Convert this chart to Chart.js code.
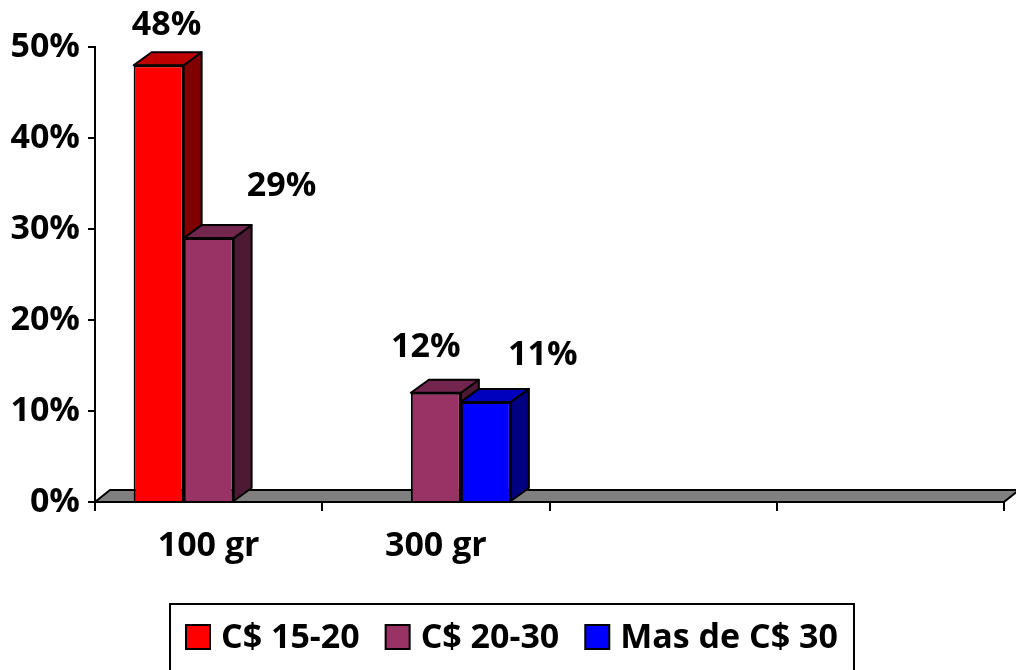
<!DOCTYPE html>
<html>
<head>
<meta charset="utf-8">
<title>Precio por presentación</title>
<script src="https://cdn.jsdelivr.net/npm/chart.js@4.4.1/dist/chart.umd.min.js"></script>
<style>
  html, body { margin: 0; padding: 0; background: #fff; }
  canvas { display: block; }
</style>
</head>
<body>
<canvas id="chart" width="1016" height="670"></canvas>
<script>
const categories = ['100 gr', '300 gr', '', ''];
const seriesNames = ['C$ 15-20', 'C$ 20-30', 'Mas de C$ 30'];
const price15to20 = [48, null, null, null];
const price20to30 = [29, 12, null, null];
const priceOver30 = [null, 11, null, null];
const yTicks = [0, 10, 20, 30, 40, 50];

// front / top / side shades for each series
const fronts = ['#FF0000', '#993366', '#0000FF'];
const tops = ['#BF0000', '#73264D', '#0000BF'];
const sides = ['#800000', '#4D1A33', '#000080'];

// where each value label sits relative to the bar top
const labelNudge = [
  [[8, -40], null],
  [[73, -52], [-10, -45]],
  [null, [57, -47]]
];

const FONT = '"Open Sans", Lato, sans-serif';
const FONT_SIZE = 34;
const DEPTH_X = 18, DEPTH_Y = 13;   // bar depth
const FLOOR_X = 15, FLOOR_Y = 12;   // floor depth

function poly(ctx, pts, fill) {
  ctx.beginPath();
  ctx.moveTo(pts[0][0], pts[0][1]);
  for (let i = 1; i < pts.length; i++) ctx.lineTo(pts[i][0], pts[i][1]);
  ctx.closePath();
  ctx.fillStyle = fill;
  ctx.fill();
  ctx.stroke();
}

const bars3d = {
  id: 'bars3d',
  beforeDatasetsDraw(chart) {
    const { ctx, chartArea: a, scales: { y } } = chart;
    const y0 = y.getPixelForValue(0);
    ctx.save();
    ctx.strokeStyle = '#000';
    ctx.lineWidth = 2;
    ctx.lineJoin = 'round';
    poly(ctx, [[a.left, y0], [a.right, y0], [a.right + FLOOR_X, y0 - FLOOR_Y], [a.left + FLOOR_X, y0 - FLOOR_Y]], '#808080');

    // sides and tops, left to right so nearer faces cover farther ones
    categories.forEach((c, i) => {
      chart.data.datasets.forEach((ds, d) => {
        if (ds.data[i] == null) return;
        const bar = chart.getDatasetMeta(d).data[i];
        const x0 = bar.x - bar.width / 2, x1 = bar.x + bar.width / 2;
        const top = bar.y, base = bar.base;
        poly(ctx, [[x1, top], [x1 + DEPTH_X, top - DEPTH_Y], [x1 + DEPTH_X, base - DEPTH_Y], [x1, base]], sides[d]);
        poly(ctx, [[x0, top], [x1, top], [x1 + DEPTH_X, top - DEPTH_Y], [x0 + DEPTH_X, top - DEPTH_Y]], tops[d]);
      });
    });
    ctx.restore();
  },
  afterDatasetsDraw(chart) {
    const { ctx } = chart;
    ctx.save();
    ctx.font = 'bold ' + FONT_SIZE + 'px ' + FONT;
    ctx.fillStyle = '#000';
    ctx.textAlign = 'center';
    ctx.textBaseline = 'middle';
    chart.data.datasets.forEach((ds, d) => {
      ds.data.forEach((v, i) => {
        if (v == null) return;
        const bar = chart.getDatasetMeta(d).data[i];
        const n = labelNudge[d][i] || [0, -30];
        ctx.fillText(v + '%', bar.x + n[0], bar.y + n[1]);
      });
    });
    ctx.restore();
  },
  afterDraw(chart) {
    // boxed legend under the axis
    const { ctx } = chart;
    ctx.save();
    ctx.font = 'bold ' + FONT_SIZE + 'px ' + FONT;
    const sq = 24, gapText = 11, gapItem = 26, pad = 16;
    const widths = seriesNames.map(s => ctx.measureText(s).width);
    let total = 0;
    widths.forEach((w, k) => { total += sq + gapText + w + (k < widths.length - 1 ? gapItem : 0); });
    const boxL = Math.round(512 - total / 2 - pad), boxR = Math.round(512 + total / 2 + pad);
    ctx.strokeStyle = '#000';
    ctx.lineWidth = 2;
    ctx.strokeRect(boxL, 604, boxR - boxL, 80);
    let x = boxL + pad;
    const cy = 637;
    ctx.textBaseline = 'middle';
    ctx.textAlign = 'left';
    seriesNames.forEach((s, k) => {
      ctx.fillStyle = fronts[k];
      ctx.fillRect(x, cy - 12, sq, sq);
      ctx.strokeRect(x, cy - 12, sq, sq);
      ctx.fillStyle = '#000';
      ctx.fillText(s, x + sq + gapText, cy + 1);
      x += sq + gapText + widths[k] + gapItem;
    });
    ctx.restore();
  }
};

const seriesValues = [price15to20, price20to30, priceOver30];

new Chart(document.getElementById('chart').getContext('2d'), {
  type: 'bar',
  data: {
    labels: categories,
    datasets: seriesValues.map((vals, d) => ({
      label: seriesNames[d],
      data: vals,
      backgroundColor: fronts[d],
      borderColor: '#000',
      borderWidth: 2,
      categoryPercentage: 0.66,
      barPercentage: 1
    }))
  },
  options: {
    responsive: false,
    animation: false,
    devicePixelRatio: 1,
    layout: { padding: { top: 47, right: 12, left: 0, bottom: 0 } },
    plugins: {
      legend: { display: false },
      tooltip: { enabled: false }
    },
    scales: {
      x: {
        afterFit: s => { s.height = 168; },
        grid: { display: true, drawOnChartArea: false, drawTicks: true, tickLength: 9, color: '#000', lineWidth: 2, offset: true },
        border: { display: true, color: '#000', width: 2 },
        ticks: { color: '#000', font: { family: FONT, size: FONT_SIZE, weight: 'bold' }, padding: 15, maxRotation: 0 }
      },
      y: {
        min: 0,
        max: 50,
        afterFit: s => { s.width = 95; },
        afterBuildTicks: s => { s.ticks = yTicks.map(v => ({ value: v })); },
        grid: { display: true, drawOnChartArea: false, drawTicks: true, tickLength: 7, color: '#000', lineWidth: 2 },
        border: { display: true, color: '#000', width: 2 },
        ticks: { color: '#000', padding: 8, font: { family: FONT, size: FONT_SIZE, weight: 'bold' }, callback: v => v + '%' }
      }
    }
  },
  plugins: [bars3d]
});
</script>
</body>
</html>
